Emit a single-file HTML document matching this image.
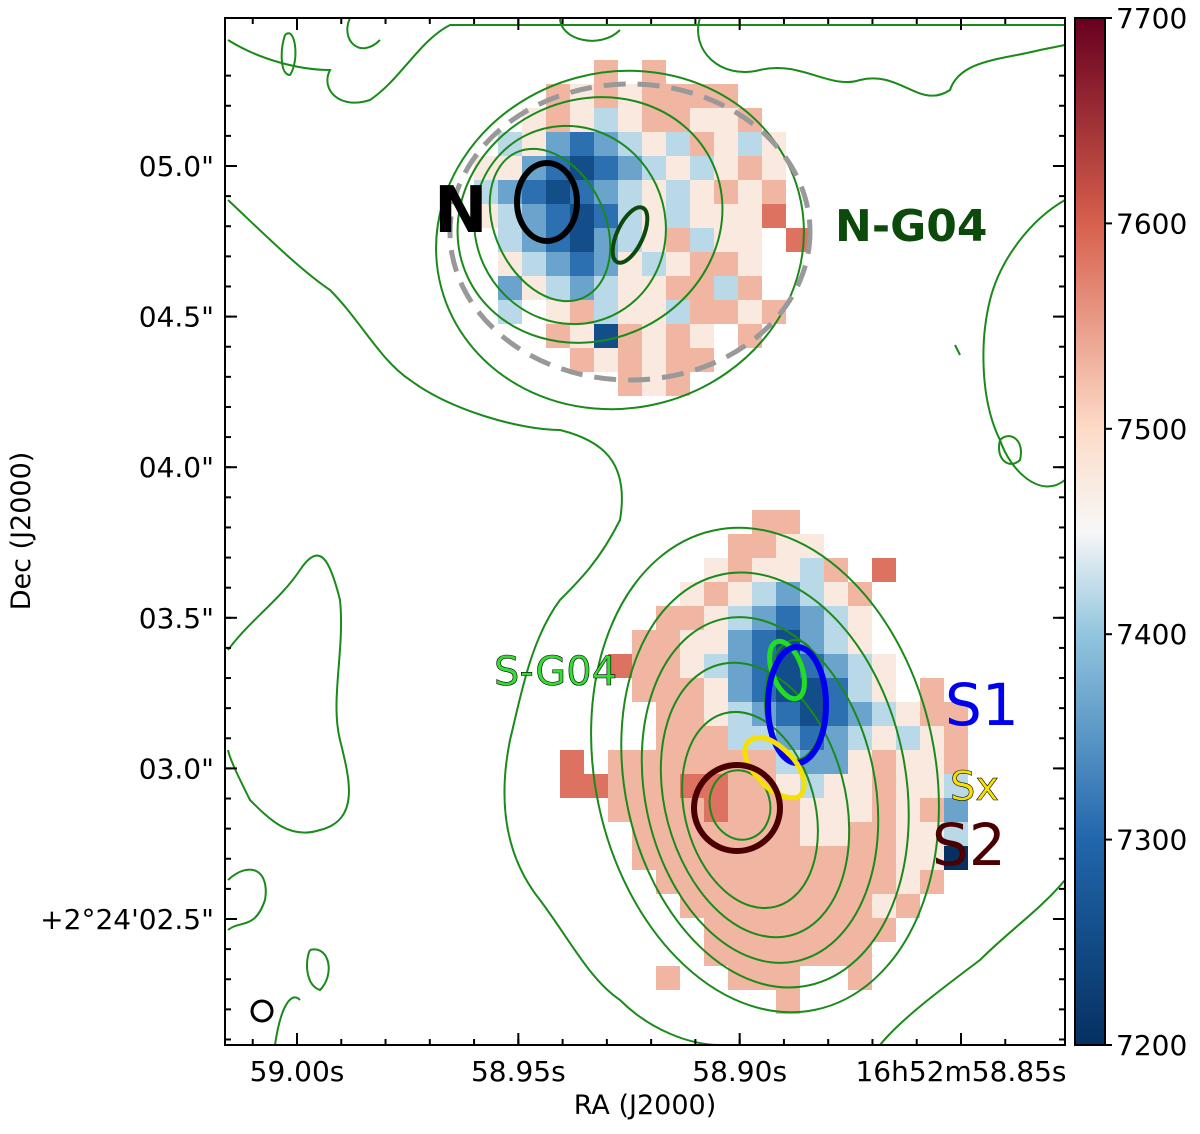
<!DOCTYPE html>
<html><head><meta charset="utf-8"><style>
body{margin:0;background:#fff;}
svg text{font-family:"DejaVu Sans","Liberation Sans",sans-serif;}
</style></head><body>
<svg id="fig" width="1200" height="1129" viewBox="0 0 1200 1129" xmlns="http://www.w3.org/2000/svg">
<rect x="0" y="0" width="1200" height="1129" fill="#fff"/>
<g id="cells"></g>
<g id="contours" fill="none" stroke="#1a8a1a" stroke-width="2">
<path d="M228,40 C260,60 300,70 330,70 C320,90 340,110 370,100 C400,80 420,40 450,25 L1065,25 M350,18 C340,40 360,60 380,40 M560,18 C560,40 600,50 620,30 M700,18 C690,50 720,80 760,70 C800,60 830,90 860,80 C900,70 920,110 950,90 C960,60 1000,60 1040,50 L1065,45"/>
<path d="M228,200 C260,230 300,270 330,290 C360,320 380,360 410,380 C450,410 520,430 560,430 C600,440 630,460 620,520 C600,560 580,580 560,600 C530,640 520,700 510,740 C500,790 500,850 540,900 C570,940 590,980 620,1000 C650,1030 690,1045 720,1045 M880,1045 C900,1020 940,990 980,960 C1010,930 1040,910 1065,880 M1065,480 C1040,500 1010,470 1000,440 C980,400 980,340 990,300 C1000,260 1030,220 1065,200"/>
<path d="M228,650 C250,620 280,600 300,570 C320,540 330,560 340,600 C345,650 330,700 340,740 C350,780 360,820 320,830 C290,840 270,820 250,800 C240,780 230,760 228,750"/>
<path d="M228,880 C250,860 270,870 265,900 C255,930 240,920 228,930 M310,950 C330,945 335,975 320,990 C305,985 305,960 310,950 M275,1045 C280,1010 290,990 300,1000 M1000,440 C1010,430 1025,440 1020,460 C1010,470 995,460 1000,440 M955,345 L960,355 M285,35 C295,25 300,60 290,75 C280,75 280,50 285,35"/>
<ellipse cx="620" cy="240" rx="185" ry="168" transform="rotate(-15 620 240)"/>
<ellipse cx="590" cy="220" rx="135" ry="120" transform="rotate(-25 590 220)"/>
<ellipse cx="570" cy="225" rx="95" ry="100" transform="rotate(-25 570 225)"/>
<ellipse cx="550" cy="225" rx="55" ry="80" transform="rotate(-25 550 225)"/>
<ellipse cx="765" cy="770" rx="170" ry="245" transform="rotate(-12 765 770)"/>
<ellipse cx="765" cy="780" rx="140" ry="210" transform="rotate(-12 765 780)"/>
<ellipse cx="760" cy="790" rx="115" ry="175" transform="rotate(-12 760 790)"/>
<ellipse cx="755" cy="800" rx="90" ry="140" transform="rotate(-15 755 800)"/>
<ellipse cx="750" cy="810" rx="65" ry="100" transform="rotate(-15 750 810)"/>
<ellipse cx="740" cy="805" rx="30" ry="35" transform="rotate(-15 740 805)"/>
<ellipse cx="795" cy="700" rx="30" ry="60"/>
</g>
<ellipse cx="630" cy="232" rx="180" ry="148" fill="none" stroke="#999" stroke-width="5" stroke-dasharray="22,12"/>
<ellipse cx="547" cy="202" rx="30" ry="39" fill="none" stroke="#000" stroke-width="6"/>
<ellipse cx="630" cy="235" rx="13" ry="30" transform="rotate(25 630 235)" fill="none" stroke="#0b4a0b" stroke-width="4"/>
<ellipse cx="787" cy="670" rx="15" ry="30" transform="rotate(-20 787 670)" fill="none" stroke="#22dd22" stroke-width="5"/>
<ellipse cx="797" cy="705" rx="29" ry="58" fill="none" stroke="#0000ee" stroke-width="6"/>
<path d="M748,742 C760,732 775,740 790,755 C805,770 810,795 795,798 C780,798 768,790 760,780 C748,768 740,752 748,742 Z" fill="none" stroke="#f5e000" stroke-width="5"/>
<circle cx="737" cy="808" r="43" fill="none" stroke="#4a0000" stroke-width="6"/>
<circle cx="262" cy="1011" r="10" fill="none" stroke="#000" stroke-width="3"/>
<text x="434" y="232" font-size="64" font-weight="bold" fill="#000">N</text>
<text x="835" y="241" font-size="44" font-weight="bold" fill="#0b4a0b">N-G04</text>
<text x="494" y="685" font-size="40" fill="#33dd33" stroke="#000" stroke-width="0.6">S-G04</text>
<text x="945" y="725" font-size="58" fill="#0000ee">S1</text>
<text x="950" y="800" font-size="40" fill="#f5e000" stroke="#000" stroke-width="0.6">Sx</text>
<text x="932" y="865" font-size="58" fill="#4a0000">S2</text>
<rect x="225" y="18" width="840" height="1027" fill="none" stroke="#000" stroke-width="2"/>
<g id="axes"></g>
<defs><linearGradient id="cmap" x1="0" y1="1" x2="0" y2="0">
<stop offset="0" stop-color="#053061"/><stop offset="0.2" stop-color="#2166ac"/><stop offset="0.4" stop-color="#92c5de"/><stop offset="0.5" stop-color="#f7f7f7"/><stop offset="0.6" stop-color="#fddbc7"/><stop offset="0.8" stop-color="#d6604d"/><stop offset="1" stop-color="#67001f"/></linearGradient></defs>
<rect x="1075" y="18" width="30" height="1027" fill="url(#cmap)" stroke="#000" stroke-width="2"/>
<text x="30" y="531" font-size="27" text-anchor="middle" transform="rotate(-90 30 531)">Dec (J2000)</text>
<text x="645" y="1114" font-size="27" text-anchor="middle">RA (J2000)</text>
</svg>
<script>
const northRows=["......6.6......","....65656666...","...5654566556..","..453234546545.",".5532123454565.",".4321234545656.",".5432124545557.","..43213456455.7","..54323545665..","..35434556646..","..4.5645546656.","....6516565.6..",".....656566....",".......656....."];
const southRows=["........66.......",".......6655......","......565546.7...",".....56543456....","....665432345....","...6655321345....","..766543212345...","...66653211245.6.","....6654321234566","....6664432345456","7.666666643356556","77666776654556554","..666676665556563","...66666665566554","...66666666666550","....666666666656.",".....6666666656..","......66666666...","......6666666....","....6..666..6....",".........6......."];
const cbTicks=[7200,7300,7400,7500,7600,7700];
const yTicks=["05.0\"","04.5\"","04.0\"","03.5\"","03.0\"","+2°24'02.5\""];
const yTickVals=[5.0,4.5,4.0,3.5,3.0,2.5];
const xTicks=["59.00s","58.95s","58.90s","16h52m58.85s"];
const xTickVals=[59.00,58.95,58.90,58.85];
const NS="http://www.w3.org/2000/svg";
const yS=v=>166+(5.0-v)*(919-166)/2.5;
const xS=v=>297+(59.00-v)*(961-297)/0.15;
const cS=v=>1045-(v-7200)*(1027/500);
const stops=[[7200,[5,48,97]],[7300,[33,102,172]],[7400,[146,197,222]],[7450,[247,247,247]],[7500,[253,219,199]],[7600,[214,96,77]],[7700,[103,0,31]]];
function color(v){for(let i=0;i<stops.length-1;i++){const[a,c1]=stops[i],[b,c2]=stops[i+1];if(v<=b){const t=(v-a)/(b-a);return`rgb(${c1.map((c,k)=>Math.round(c+(c2[k]-c)*t)).join(',')})`;}}return'rgb(103,0,31)';}
const cells=document.getElementById('cells');
function drawGrid(rows,x0,y0,sz){rows.forEach((r,i)=>{[...r].forEach((ch,j)=>{if(ch==='.')return;const v=7200+parseInt(ch)*55;const e=document.createElementNS(NS,'rect');e.setAttribute('x',x0+j*sz);e.setAttribute('y',y0+i*sz);e.setAttribute('width',sz);e.setAttribute('height',sz);e.setAttribute('fill',color(v));


cells.appendChild(e);});});}
drawGrid(northRows,450,60,24);
drawGrid(southRows,560,510,24);
const ax=document.getElementById('axes');
function line(x1,y1,x2,y2){const l=document.createElementNS(NS,'line');l.setAttribute('x1',x1);l.setAttribute('y1',y1);l.setAttribute('x2',x2);l.setAttribute('y2',y2);l.setAttribute('stroke','#000');l.setAttribute('stroke-width','2');


ax.appendChild(l);}
function txt(x,y,s,anchor){const t=document.createElementNS(NS,'text');t.setAttribute('x',x);t.setAttribute('y',y);t.setAttribute('font-size','28');t.setAttribute('text-anchor',anchor);t.textContent=s;


ax.appendChild(t);}
yTickVals.forEach((v,i)=>{const y=yS(v);line(225,y,237,y);line(1065,y,1053,y);txt(214,y+10,yTicks[i],'end');});
xTickVals.forEach((v,i)=>{const x=xS(v);line(x,1045,x,1033);line(x,18,x,30);txt(x,1081,xTicks[i],'middle');});
for(let v=59.01;v>58.835;v-=0.01){const x=xS(v);if(x>226&&x<1064){line(x,1045,x,1039);line(x,18,x,24);}}
for(let v=5.3;v>2.05;v-=0.1){const y=yS(v);if(y>19&&y<1044){line(225,y,231,y);line(1065,y,1059,y);}}
cbTicks.forEach(v=>{const y=cS(v);line(1105,y,1112,y);line(1075,y,1082,y);txt(1116,y+10,String(v),'start');});
</script>
</body></html>
